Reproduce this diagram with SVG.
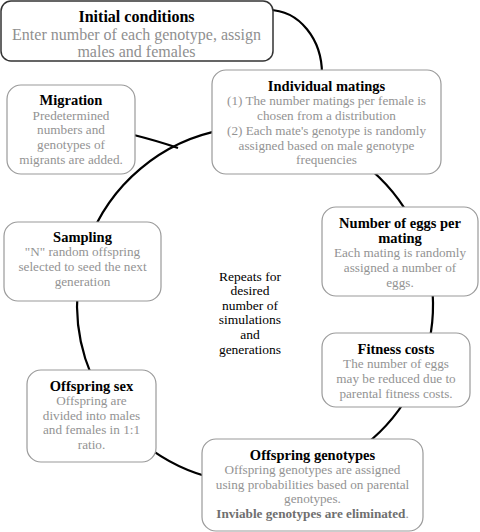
<svg xmlns="http://www.w3.org/2000/svg" width="480" height="532" viewBox="0 0 480 532">
<style>
.box{fill:#fff;stroke:#9a9a9a;stroke-width:1.2}
.box0{fill:#fff;stroke:#333;stroke-width:1.5}
.conn{fill:none;stroke:#000;stroke-width:2.2}
text{font-family:"Liberation Serif","DejaVu Serif",serif;text-anchor:middle}
.t{font-weight:bold;font-size:14.5px;fill:#000}
.t0{font-weight:bold;font-size:16px;fill:#000}
.b{font-size:13.2px;fill:#939393}
.b0{font-size:16px;fill:#8f8f8f}
.c{font-size:13.5px;fill:#000}
.bb{font-weight:bold;fill:#6f6f6f}
</style>
<rect width="480" height="532" fill="#fff"/>
<g id="connectors">
<path class="conn" d="M268 10 C300 10 322 40 322 74"/>
<path class="conn" d="M130 134 Q158 141 178 148"/>
<path class="conn" d="M224.1 129.7 A178 178 0 0 0 87.7 244.1"/>
<path class="conn" d="M77.7 289.5 A178 178 0 0 0 118.6 419.4"/>
<path class="conn" d="M152.9 450.8 A178 178 0 0 0 224.1 480.3"/>
<path class="conn" d="M357.1 450.8 A178 178 0 0 0 409.2 394"/>
<path class="conn" d="M426.9 351.1 A178 178 0 0 0 430.3 274.1"/>
<path class="conn" d="M409.2 216 A178 178 0 0 0 357.1 159.2"/>
</g>
<g id="initial">
<rect class="box0" x="1" y="1" width="272" height="60" rx="10"/>
<text class="t0" x="136.5" y="22">Initial conditions</text>
<text class="b0" x="136.5" y="40">Enter number of each genotype, assign</text>
<text class="b0" x="136.5" y="57">males and females</text>
</g>
<g id="matings">
<rect class="box" x="212" y="70" width="229" height="104" rx="14"/>
<text class="t" x="326.5" y="91">Individual matings</text>
<text class="b" x="326.5" y="105">(1) The number matings per female is</text>
<text class="b" x="326.5" y="120">chosen from a distribution</text>
<text class="b" x="326.5" y="135">(2) Each mate's genotype is randomly</text>
<text class="b" x="326.5" y="150">assigned based on male genotype</text>
<text class="b" x="326.5" y="164">frequencies</text>
</g>
<g id="migration">
<rect class="box" x="7" y="85" width="128" height="89" rx="14"/>
<text class="t" x="71" y="105">Migration</text>
<text class="b" x="71" y="120">Predetermined</text>
<text class="b" x="71" y="134">numbers and</text>
<text class="b" x="71" y="149">genotypes of</text>
<text class="b" x="71" y="164">migrants are added.</text>
</g>
<g id="sampling">
<rect class="box" x="4" y="222" width="157" height="79" rx="14"/>
<text class="t" x="82.5" y="242">Sampling</text>
<text class="b" x="82.5" y="256">"N" random offspring</text>
<text class="b" x="82.5" y="271">selected to seed the next</text>
<text class="b" x="82.5" y="286">generation</text>
</g>
<g id="eggs">
<rect class="box" x="322" y="207" width="156" height="89" rx="14"/>
<text class="t" x="400" y="228">Number of eggs per</text>
<text class="t" x="400" y="243">mating</text>
<text class="b" x="400" y="257">Each mating is randomly</text>
<text class="b" x="400" y="272">assigned a number of</text>
<text class="b" x="400" y="287">eggs.</text>
</g>
<g id="fitness">
<rect class="box" x="322" y="333" width="148" height="74" rx="14"/>
<text class="t" x="396" y="354">Fitness costs</text>
<text class="b" x="396" y="368">The number of eggs</text>
<text class="b" x="396" y="383">may be reduced due to</text>
<text class="b" x="396" y="398">parental fitness costs.</text>
</g>
<g id="sex">
<rect class="box" x="27" y="370" width="129" height="92" rx="14"/>
<text class="t" x="91.5" y="391">Offspring sex</text>
<text class="b" x="91.5" y="405">Offspring are</text>
<text class="b" x="91.5" y="420">divided into males</text>
<text class="b" x="91.5" y="434">and females in 1:1</text>
<text class="b" x="91.5" y="449">ratio.</text>
</g>
<g id="genotypes">
<rect class="box" x="202" y="439" width="221" height="92" rx="14"/>
<text class="t" x="312.5" y="460">Offspring genotypes</text>
<text class="b" x="312.5" y="474">Offspring genotypes are assigned</text>
<text class="b" x="312.5" y="489">using probabilities based on parental</text>
<text class="b" x="312.5" y="503">genotypes.</text>
<text class="b" x="312.5" y="518"><tspan class="bb">Inviable genotypes are eliminated</tspan>.</text>
</g>
<g id="center">
<text class="c" x="250" y="281">Repeats for</text>
<text class="c" x="250" y="295">desired</text>
<text class="c" x="250" y="310">number of</text>
<text class="c" x="250" y="324">simulations</text>
<text class="c" x="250" y="339">and</text>
<text class="c" x="250" y="354">generations</text>
</g>
</svg>
